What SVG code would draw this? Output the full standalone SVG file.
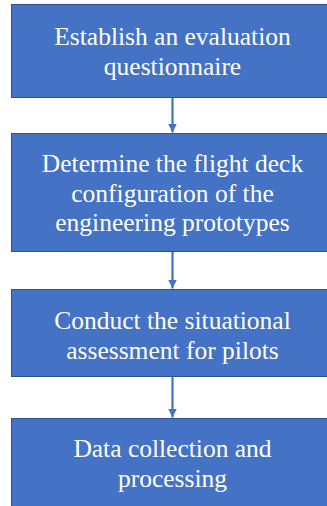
<svg xmlns="http://www.w3.org/2000/svg" width="327" height="506" viewBox="0 0 327 506">
  <style>
    .box { fill: #4472C4; stroke: #2F528F; stroke-width: 1; }
    .lbl { font-family: "Liberation Serif", "DejaVu Serif", serif; font-size: 25.5px; fill: #FFFFFF; text-anchor: middle; }
    .conn { stroke: #4472C4; stroke-width: 2.2; fill: none; }
  </style>
  <defs>
    <marker id="ah" markerUnits="userSpaceOnUse" markerWidth="10" markerHeight="10" refX="9" refY="5" orient="auto">
      <path d="M0,0.5 L9,5 L0,9.5 Z" fill="#4472C4"/>
    </marker>
  </defs>
  <rect width="327" height="506" fill="#FFFFFF"/>
  <g id="connectors">
    <line class="conn" x1="172.5" y1="97.5" x2="172.5" y2="132.5" marker-end="url(#ah)"/>
    <line class="conn" x1="172.5" y1="251.5" x2="172.5" y2="288.5" marker-end="url(#ah)"/>
    <line class="conn" x1="172.5" y1="376.5" x2="172.5" y2="417.5" marker-end="url(#ah)"/>
  </g>
  <g id="node1">
    <rect class="box" x="11.5" y="4.5" width="323" height="93"/>
    <text class="lbl" x="172.5" y="45">Establish an evaluation</text>
    <text class="lbl" x="172.5" y="75">questionnaire</text>
  </g>
  <g id="node2">
    <rect class="box" x="11.5" y="133.5" width="323" height="118"/>
    <text class="lbl" x="172.5" y="172">Determine the flight deck</text>
    <text class="lbl" x="172.5" y="202">configuration of the</text>
    <text class="lbl" x="172.5" y="231">engineering prototypes</text>
  </g>
  <g id="node3">
    <rect class="box" x="11.5" y="289.5" width="323" height="87"/>
    <text class="lbl" x="172.5" y="329">Conduct the situational</text>
    <text class="lbl" x="172.5" y="359">assessment for pilots</text>
  </g>
  <g id="node4">
    <rect class="box" x="11.5" y="418.5" width="323" height="95"/>
    <text class="lbl" x="172.5" y="457">Data collection and</text>
    <text class="lbl" x="172.5" y="487">processing</text>
  </g>
</svg>
